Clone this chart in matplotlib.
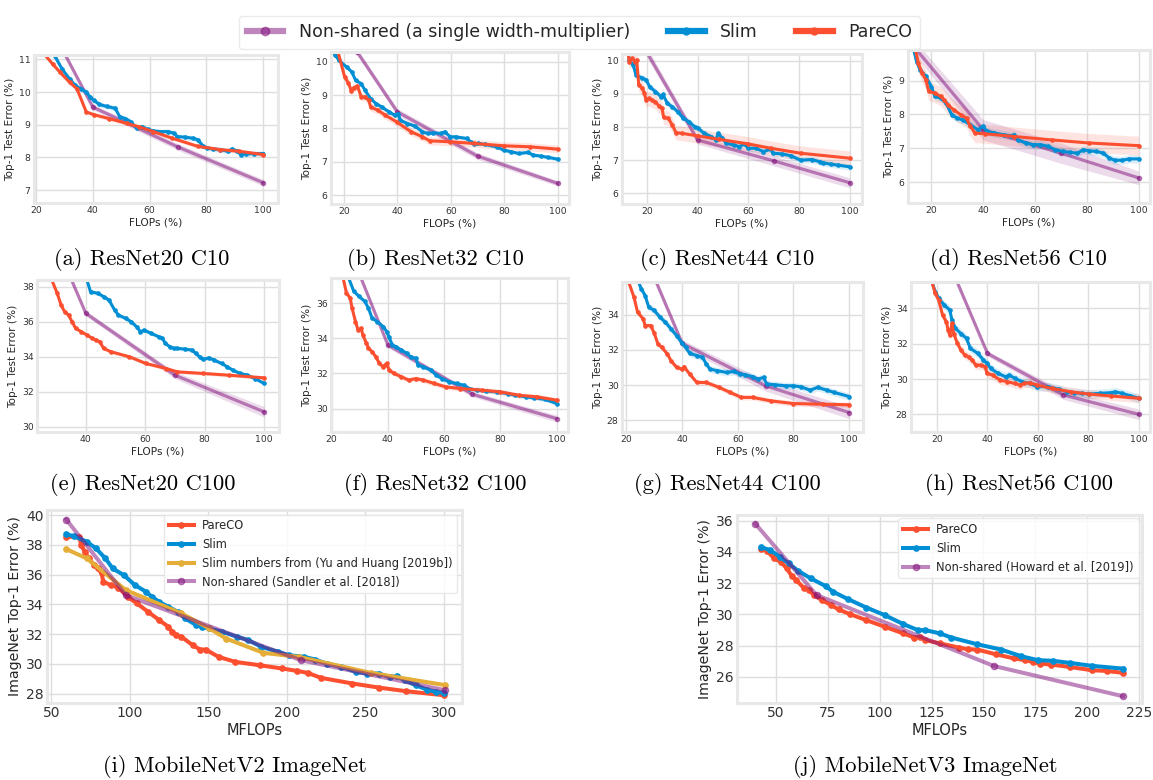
import matplotlib
matplotlib.use('Agg')
import matplotlib.pyplot as plt
from matplotlib.lines import Line2D
import numpy as np

# === Data ===
# (a) ResNet20 C10
a_ns_x = [25, 40, 70, 100]
a_ns_y = [12.0, 9.54, 8.32, 7.23]
a_ns_sd = [0.1, 0.08, 0.1, 0.1]
a_slim_x = [25.5, 26.6, 29.2, 31.8, 33.8, 35.7, 37.7, 39.0, 40.3, 42.3, 44.9, 47.9, 49.5, 51.5, 53.4, 55.4, 57.4,
            59.3, 61.3, 63.9, 66.6, 68.5, 69.8, 72.5, 75.1, 77.0, 78.9, 80.3, 82.3, 84.9, 87.5, 89.1, 90.8, 92.1,
            94.1, 96.7, 100]
a_slim_y = [11.3, 11.1, 10.7, 10.4, 10.2, 10.1, 10.0, 9.85, 9.75, 9.62, 9.56, 9.5, 9.24, 9.19, 9.09, 8.89, 8.94,
            8.86, 8.81, 8.79, 8.79, 8.74, 8.64, 8.62, 8.59, 8.54, 8.34, 8.29, 8.26, 8.24, 8.19, 8.26, 8.19, 8.09,
            8.11, 8.12, 8.12]
a_pareco_x = [22.5, 25.9, 28.5, 31.8, 34.4, 37.7, 40.3, 45.6, 52.1, 56.1, 61.3, 67.9, 77.0, 84.9, 91.5, 100]
a_pareco_y = [11.2, 10.85, 10.6, 10.3, 10.1, 9.39, 9.31, 9.19, 9.04, 8.94, 8.79, 8.59, 8.34, 8.24, 8.19, 8.09]

# (b) ResNet32 C10
b_ns_x = [25, 40, 70, 100]
b_ns_y = [10.3, 8.5, 7.17, 6.35]
b_ns_sd = [0.1, 0.1, 0.1, 0.08]
b_slim_x = [15.5, 16.8, 18.2, 21.0, 23.0, 24.4, 26.5, 27.9, 30.0, 32.0, 34.1, 36.9, 39.0, 40.4, 41.0, 43.8, 46.6,
            49.4, 51.4, 53.5, 56.3, 57.7, 59.8, 61.8, 66.0, 67.4, 68.8, 70.1, 72.9, 77.1, 79.8, 82.6, 85.4, 88.8,
            90.9, 93.7, 96.5, 99.9]
b_slim_y = [10.4, 10.2, 10.05, 9.85, 9.7, 9.45, 9.35, 9.15, 8.9, 8.75, 8.65, 8.5, 8.4, 8.45, 8.25, 8.15, 8.07,
            7.9, 7.85, 7.87, 7.85, 7.9, 7.75, 7.75, 7.7, 7.6, 7.52, 7.55, 7.52, 7.45, 7.35, 7.3, 7.25, 7.28,
            7.2, 7.17, 7.13, 7.08]
b_pareco_x = [17.5, 20.3, 21.7, 22.8, 23.7, 25.1, 26.5, 27.9, 29.3, 30.0, 32.7, 35.5, 39.7, 45.2, 49.4, 52.1,
              59.8, 68.8, 79.8, 89.5, 99.9]
b_pareco_y = [10.4, 9.55, 9.37, 9.13, 9.23, 9.27, 8.95, 8.95, 8.85, 8.65, 8.55, 8.4, 8.2, 7.9, 7.75, 7.63,
              7.6, 7.55, 7.48, 7.45, 7.38]

# (c) ResNet44 C10
c_ns_x = [20, 40, 70, 100]
c_ns_y = [10.25, 7.61, 6.98, 6.32]
c_ns_sd = [0.15, 0.12, 0.15, 0.15]
c_slim_x = [12.4, 13.1, 14.6, 15.7, 18.2, 19.7, 21.2, 23.4, 25.6, 26.3, 28.1, 30.0, 32.2, 34.4, 36.6, 38.8, 40.3,
            42.5, 45.4, 47.2, 48.1, 49.8, 51.3, 54.2, 56.4, 58.6, 59.8, 63.0, 65.9, 68.9, 69.6, 73.3, 76.9, 80.6,
            85.0, 88.3, 89.5, 92.4, 95.3, 100]
c_slim_y = [10.3, 10.02, 9.87, 9.57, 9.47, 9.42, 9.2, 9.07, 8.91, 8.98, 8.71, 8.61, 8.46, 8.26, 8.16, 8.01, 7.96,
            7.81, 7.71, 7.61, 7.81, 7.66, 7.51, 7.46, 7.41, 7.49, 7.36, 7.36, 7.26, 7.33, 7.21, 7.19, 7.13, 7.0,
            7.02, 6.95, 6.92, 6.88, 6.85, 6.8]
c_pareco_x = [12.4, 13.1, 14.3, 15.3, 16.0, 16.8, 18.2, 19.0, 19.7, 20.7, 21.9, 23.4, 24.8, 26.0, 26.6, 28.5,
              30.0, 31.5, 33.7, 40.3, 48.3, 60.0, 68.9, 80.6, 100]
c_pareco_y = [10.3, 9.97, 10.07, 9.97, 10.02, 9.27, 9.17, 9.02, 8.81, 8.86, 8.81, 8.76, 8.63, 8.56, 8.29, 8.26,
              8.06, 7.83, 7.81, 7.73, 7.63, 7.49, 7.36, 7.21, 7.06]

# (d) ResNet56 C10
d_ns_x = [10, 40, 70, 100]
d_ns_y = [10.3, 7.55, 6.86, 6.13]
d_ns_sd = [0.2, 0.3, 0.3, 0.2]
d_slim_x = [12.9, 14.3, 15.7, 17.9, 20.0, 21.4, 23.6, 25.7, 27.9, 30.0, 32.1, 35.0, 37.9, 40.0, 41.4, 44.3, 47.9,
            50.7, 52.1, 53.6, 56.4, 59.3, 62.1, 65.0, 67.9, 70.7, 73.6, 76.4, 78.6, 80.7, 83.6, 86.4, 88.6, 90.7,
            93.6, 96.4, 100]
d_slim_y = [10.0, 9.56, 9.31, 9.12, 8.82, 8.53, 8.48, 8.33, 7.99, 7.89, 7.84, 7.7, 7.55, 7.65, 7.5, 7.45, 7.4,
            7.37, 7.4, 7.25, 7.16, 7.11, 7.11, 7.06, 6.96, 6.91, 6.88, 6.86, 6.96, 6.93, 6.91, 6.86, 6.72, 6.65,
            6.65, 6.69, 6.69]
d_pareco_x = [13.6, 15.0, 16.4, 17.9, 19.0, 21.4, 23.6, 25.0, 26.4, 28.6, 31.4, 33.6, 35.0, 36.9, 40.7, 52.1,
              66.4, 80.7, 100]
d_pareco_y = [10.0, 9.51, 9.22, 9.02, 8.68, 8.63, 8.53, 8.43, 8.28, 8.14, 7.99, 7.89, 7.65, 7.45, 7.43, 7.35,
              7.25, 7.16, 7.08]

# (e) ResNet20 C100
e_ns_x = [30, 40, 70, 100]
e_ns_y = [40.45, 36.48, 32.95, 30.86]
e_ns_sd = [0.2, 0.15, 0.2, 0.3]
e_slim_x = [40.0, 41.6, 44.1, 46.0, 47.8, 49.7, 51.0, 53.4, 55.3, 57.1, 58.4, 59.6, 62.1, 64.6, 65.8, 66.8, 68.3,
            69.6, 70.8, 73.3, 75.8, 77.0, 78.3, 79.5, 81.4, 83.2, 85.7, 87.6, 89.4, 91.9, 94.4, 96.9, 100]
e_slim_y = [38.6, 37.71, 37.62, 37.43, 37.24, 36.67, 36.38, 36.19, 36.0, 35.71, 35.43, 35.52, 35.33, 35.14,
            35.05, 34.76, 34.57, 34.48, 34.48, 34.44, 34.38, 34.19, 34.0, 33.85, 33.94, 33.81, 33.62, 33.43,
            33.24, 33.05, 32.95, 32.76, 32.48]
e_pareco_x = [28.3, 30.4, 31.7, 32.9, 34.2, 35.4, 36.6, 38.5, 40.4, 42.2, 43.5, 44.7, 46.0, 48.4, 54.7, 60.2,
              67.1, 70.8, 79.5, 88.2, 100]
e_pareco_y = [38.5, 37.62, 36.95, 36.57, 36.38, 36.0, 35.62, 35.43, 35.24, 35.05, 34.95, 34.86, 34.48, 34.29,
              34.0, 33.62, 33.33, 33.14, 33.05, 32.95, 32.8]

# (f) ResNet32 C100
f_ns_x = [25, 40, 70, 100]
f_ns_y = [39.6, 33.62, 30.82, 29.43]
f_ns_sd = [0.2, 0.15, 0.15, 0.2]
f_slim_x = [25.9, 27.9, 29.8, 31.8, 33.1, 34.4, 36.3, 38.3, 39.6, 40.3, 41.6, 42.9, 44.8, 46.8, 48.1, 50.0, 50.7,
            52.6, 55.3, 57.2, 59.2, 61.8, 64.4, 67.0, 69.0, 71.6, 74.8, 78.7, 82.6, 85.2, 89.2, 91.8, 95.7, 100]
f_slim_y = [37.5, 36.67, 36.38, 36.1, 35.71, 35.14, 34.95, 34.67, 34.38, 34.1, 33.62, 33.52, 33.33, 33.14,
            32.95, 32.86, 32.48, 32.38, 32.19, 31.9, 31.71, 31.52, 31.43, 31.33, 31.14, 31.05, 31.0, 30.95,
            30.86, 30.76, 30.67, 30.61, 30.53, 30.29]
f_pareco_x = [24.0, 25.3, 26.6, 27.3, 28.5, 29.4, 30.5, 31.1, 32.4, 33.1, 34.4, 35.7, 37.0, 38.3, 39.0, 39.6,
              40.5, 42.2, 44.8, 47.4, 50.0, 52.6, 56.5, 60.5, 65.7, 73.5, 80.0, 86.5, 93.0, 100]
f_pareco_y = [37.5, 36.57, 36.29, 35.71, 34.95, 34.48, 34.57, 34.19, 33.71, 33.43, 33.24, 32.95, 32.57, 32.38,
              32.48, 32.57, 32.19, 32.0, 31.81, 31.62, 31.71, 31.62, 31.43, 31.24, 31.14, 31.05, 30.95, 30.76,
              30.67, 30.48]

# (g) ResNet44 C100
g_ns_x = [25, 40, 70, 100]
g_ns_y = [38.0, 32.38, 29.96, 28.44]
g_ns_sd = [0.2, 0.2, 0.3, 0.35]
g_slim_x = [24.0, 25.3, 26.7, 28.0, 30.0, 32.0, 34.0, 36.0, 38.0, 40.0, 41.3, 42.7, 45.3, 47.3, 48.7, 50.0, 52.7,
            56.0, 58.7, 60.7, 62.7, 65.3, 67.3, 69.3, 70.4, 73.3, 77.3, 80.0, 82.7, 86.0, 88.7, 92.0, 94.7, 100]
g_slim_y = [36.0, 35.49, 35.1, 34.44, 34.25, 33.87, 33.58, 33.2, 32.82, 32.38, 32.15, 31.81, 31.68, 31.58,
            31.2, 30.91, 30.82, 30.72, 30.78, 30.63, 30.59, 30.48, 30.34, 30.44, 30.06, 30.02, 29.96, 29.96,
            29.9, 29.71, 29.87, 29.71, 29.58, 29.35]
g_pareco_x = [20.5, 22.7, 24.0, 26.0, 26.7, 28.7, 30.0, 31.3, 32.7, 34.7, 36.0, 38.0, 40.0, 40.7, 42.7, 45.3,
              48.7, 53.3, 57.3, 61.3, 65.3, 72.0, 80.0, 90.7, 100]
g_pareco_y = [36.0, 35.01, 34.15, 33.77, 33.39, 33.39, 32.95, 32.34, 32.15, 31.77, 31.39, 31.01, 30.91, 31.05,
              30.63, 30.15, 30.15, 29.87, 29.58, 29.3, 29.3, 29.1, 28.95, 28.91, 28.88]

# (h) ResNet56 C100
h_ns_x = [25, 40, 70, 100]
h_ns_y = [36.5, 31.45, 29.1, 28.0]
h_ns_sd = [0.2, 0.15, 0.25, 0.3]
h_slim_x = [17.8, 19.3, 20.7, 22.9, 25.1, 25.9, 27.3, 29.5, 31.7, 33.2, 36.2, 38.4, 39.8, 41.3, 44.2, 47.2, 48.6,
            50.8, 53.8, 56.7, 59.6, 64.1, 68.5, 71.4, 74.3, 77.3, 80.2, 84.6, 89.0, 90.5, 93.4, 96.4, 100]
h_slim_y = [35.6, 34.94, 34.57, 34.19, 33.91, 33.34, 32.87, 32.58, 32.3, 31.74, 31.45, 31.08, 30.89, 30.6,
            30.32, 30.13, 30.23, 30.04, 29.85, 29.75, 29.57, 29.57, 29.42, 29.28, 29.23, 29.19, 29.15, 29.19,
            29.23, 29.28, 29.19, 29.06, 28.91]
h_pareco_x = [17.8, 19.3, 20.7, 22.2, 23.7, 24.4, 25.1, 25.9, 26.6, 28.1, 29.5, 31.0, 32.5, 33.9, 35.4, 37.6,
              39.1, 39.8, 42.0, 45.0, 47.9, 50.8, 53.0, 54.5, 56.7, 59.6, 65.5, 72.9, 80.2, 89.0, 100]
h_pareco_y = [35.6, 34.85, 34.47, 33.62, 33.25, 32.77, 32.49, 33.15, 32.58, 32.02, 31.64, 31.36, 31.26, 31.08,
              30.79, 30.79, 30.7, 30.32, 30.23, 29.94, 29.85, 29.75, 29.66, 29.75, 29.79, 29.66, 29.47, 29.28,
              29.15, 29.04, 28.91]

# band half-widths for Slim / PareCO per panel (a..h)
slim_sd = [0.08, 0.06, 0.1, 0.12, 0.12, 0.12, 0.2, 0.25]
pareco_sd = [0.06, 0.12, 0.22, 0.28, 0.1, 0.15, 0.15, 0.25]

# (i) MobileNetV2 ImageNet
i_pareco_x = [59.5, 67.8, 69.0, 71.3, 73.7, 77.3, 79.6, 82.0, 83.1, 87.9, 92.7, 98.6, 104.5, 111.6, 118.7,
              124.6, 127.0, 129.4, 132.9, 140.0, 144.8, 148.3, 156.6, 167.3, 182.7, 196.9, 206.4, 213.5, 221.8,
              241.9, 258.5, 276.3, 300.0]
i_pareco_y = [38.54, 38.54, 37.98, 37.53, 37.09, 36.64, 36.41, 36.08, 35.52, 35.29, 35.13, 34.51, 34.06, 33.5,
              32.94, 32.49, 32.15, 31.93, 31.82, 31.26, 30.96, 30.96, 30.47, 30.13, 29.91, 29.69, 29.53, 29.39,
              29.06, 28.68, 28.41, 28.16, 27.89]
i_slim_x = [59.5, 64.2, 72.5, 78.4, 84.4, 89.1, 96.2, 103.3, 110.4, 114.0, 118.7, 124.6, 130.6, 135.3, 142.4,
            146.0, 150.7, 159.0, 168.5, 175.6, 183.9, 194.5, 201.6, 211.1, 218.2, 225.4, 234.8, 244.3, 251.4,
            258.5, 265.6, 270.4, 275.1, 282.2, 289.3, 295.3, 300.1]
i_slim_y = [38.7, 38.59, 38.21, 37.76, 37.09, 36.41, 35.96, 35.29, 34.84, 34.51, 34.17, 33.83, 33.5, 33.05,
            32.6, 32.49, 32.38, 32.15, 31.82, 31.59, 31.14, 30.81, 30.58, 30.47, 30.29, 30.02, 29.8, 29.46,
            29.35, 29.35, 29.13, 29.17, 28.9, 28.57, 28.27, 28.12, 28.05]
i_yu_x = [59.5, 72.5, 97.4, 132.9, 150.7, 161.4, 185.1, 207.6, 253.8, 301.0]
i_yu_y = [37.71, 37.09, 34.96, 33.39, 32.38, 31.7, 30.74, 30.47, 29.39, 28.57]
i_ns_x = [59.5, 97.4, 208.8, 301.0]
i_ns_y = [39.7, 34.62, 30.25, 28.23]

# (j) MobileNetV3 ImageNet
j_pareco_x = [42.9, 45.6, 49.1, 52.3, 55.3, 57.7, 59.8, 63.7, 66.0, 68.3, 72.2, 76.7, 80.2, 85.6, 93.6, 102.5,
              111.4, 116.7, 119.4, 122.1, 129.2, 138.1, 142.5, 147.0, 155.9, 164.8, 170.1, 173.7, 177.2, 182.6,
              191.5, 202.1, 209.3, 217.3]
j_pareco_y = [34.16, 34.08, 33.59, 33.37, 32.94, 32.45, 32.2, 31.66, 31.56, 31.24, 30.91, 30.59, 30.32, 30.02,
              29.63, 29.21, 28.78, 28.52, 28.56, 28.35, 28.14, 27.88, 27.77, 27.75, 27.45, 27.18, 27.07, 26.96,
              26.85, 26.79, 26.64, 26.43, 26.38, 26.26]
j_slim_x = [42.9, 47.3, 51.8, 56.2, 60.7, 66.9, 74.0, 77.6, 84.7, 93.6, 102.5, 111.4, 118.5, 122.1, 129.2, 134.5,
            147.0, 158.5, 168.3, 176.3, 183.5, 191.5, 202.1, 217.3]
j_slim_y = [34.29, 34.12, 33.69, 33.26, 32.79, 32.3, 31.81, 31.45, 30.98, 30.44, 29.95, 29.38, 28.99, 28.99,
            28.78, 28.52, 28.09, 27.75, 27.32, 27.07, 27.03, 26.9, 26.71, 26.53]
j_ns_x = [40.2, 69.6, 155.0, 217.3]
j_ns_y = [35.79, 31.24, 26.7, 24.76]

# === Styling ===
W, H = 1153, 780
BLUE, RED, YELLOW, PURPLE = '#008fd5', '#fc4f30', '#e5ae38', '#810f7c'
NS_ALPHA = 0.5

fig = plt.figure(figsize=(W / 100, H / 100), dpi=100)


def box(l, t, r, b):
    return [l / W, 1 - b / H, (r - l) / W, (b - t) / H]


def style(ax, fs):
    for s in ax.spines.values():
        s.set_color('#e8e8e8')
        s.set_linewidth(2.2)
    ax.grid(True, color='#dedede', linewidth=1)
    ax.set_axisbelow(True)
    ax.tick_params(length=0, labelsize=fs, colors='#333333', pad=2.5)


def band(ax, x, y, sd, color):
    x, y = np.array(x), np.array(y)
    ax.fill_between(x, y - sd, y + sd, color=color, alpha=0.15, lw=0)


def small_panel(rect, ns, slim, pareco, sds, xlim, ylim, xticks, yticks):
    ax = fig.add_axes(box(*rect))
    style(ax, 6.7)
    ns_x, ns_y, ns_sd = ns
    band(ax, ns_x, ns_y, np.array(ns_sd), PURPLE)
    band(ax, slim[0], slim[1], sds[0], BLUE)
    band(ax, pareco[0], pareco[1], sds[1], RED)
    ax.plot(ns_x, ns_y, color=PURPLE, alpha=NS_ALPHA, lw=2.3, marker='o', ms=3)
    ax.plot(slim[0], slim[1], color=BLUE, lw=2.2, marker='o', ms=2.3)
    ax.plot(pareco[0], pareco[1], color=RED, lw=2.2, marker='o', ms=2.3)
    ax.set_xlim(*xlim)
    ax.set_ylim(*ylim)
    ax.set_xticks(xticks)
    ax.set_yticks(yticks)
    ax.set_xlabel('FLOPs (%)', fontsize=7.6, color='#262626', labelpad=1.5)
    ax.set_ylabel('Top-1 Test Error (%)', fontsize=7.6, color='#262626', labelpad=3)
    return ax


xt = [20, 40, 60, 80, 100]
small_panel((34, 55, 278, 203), (a_ns_x, a_ns_y, a_ns_sd), (a_slim_x, a_slim_y), (a_pareco_x, a_pareco_y),
            (slim_sd[0], pareco_sd[0]), (19.3, 105.2), (6.61, 11.13), xt, [7, 8, 9, 10, 11])
small_panel((331, 52, 569, 204), (b_ns_x, b_ns_y, b_ns_sd), (b_slim_x, b_slim_y), (b_pareco_x, b_pareco_y),
            (slim_sd[1], pareco_sd[1]), (15.2, 104.2), (5.73, 10.3), xt, [6, 7, 8, 9, 10])
small_panel((622, 54, 862, 204), (c_ns_x, c_ns_y, c_ns_sd), (c_slim_x, c_slim_y), (c_pareco_x, c_pareco_y),
            (slim_sd[2], pareco_sd[2]), (10.2, 104.8), (5.68, 10.2), xt, [6, 7, 8, 9, 10])
small_panel((908, 50, 1150, 203), (d_ns_x, d_ns_y, d_ns_sd), (d_slim_x, d_slim_y), (d_pareco_x, d_pareco_y),
            (slim_sd[3], pareco_sd[3]), (11.0, 104.4), (5.39, 9.9), xt, [6, 7, 8, 9])

small_panel((37, 280, 279, 432), (e_ns_x, e_ns_y, e_ns_sd), (e_slim_x, e_slim_y), (e_pareco_x, e_pareco_y),
            (slim_sd[4], pareco_sd[4]), (23.6, 105.0), (29.71, 38.38), [40, 60, 80, 100], [30, 32, 34, 36, 38])
small_panel((331, 278, 568, 432), (f_ns_x, f_ns_y, f_ns_sd), (f_slim_x, f_slim_y), (f_pareco_x, f_pareco_y),
            (slim_sd[5], pareco_sd[5]), (19.8, 104.0), (28.67, 37.43), xt, [30, 32, 34, 36])
small_panel((622, 282, 863, 432), (g_ns_x, g_ns_y, g_ns_sd), (g_slim_x, g_slim_y), (g_pareco_x, g_pareco_y),
            (slim_sd[6], pareco_sd[6]), (18.4, 105.0), (27.33, 35.87), xt, [28, 30, 32, 34])
small_panel((911, 282, 1150, 432), (h_ns_x, h_ns_y, h_ns_sd), (h_slim_x, h_slim_y), (h_pareco_x, h_pareco_y),
            (slim_sd[7], pareco_sd[7]), (9.7, 104.4), (27.0, 35.5), xt, [28, 30, 32, 34])

# (i) MobileNetV2
ax_i = fig.add_axes(box(47, 510, 462, 703))
style(ax_i, 10)
ax_i.plot(i_pareco_x, i_pareco_y, color=RED, lw=2.9, marker='o', ms=3.8, label='PareCO')
ax_i.plot(i_slim_x, i_slim_y, color=BLUE, lw=2.9, marker='o', ms=3.8, label='Slim')
ax_i.plot(i_yu_x, i_yu_y, color=YELLOW, lw=2.9, marker='o', ms=3.8, label='Slim numbers from (Yu and Huang [2019b])')
ax_i.plot(i_ns_x, i_ns_y, color=PURPLE, alpha=NS_ALPHA, lw=2.9, marker='o', ms=4.5,
          label='Non-shared (Sandler et al. [2018])')
ax_i.set_xlim(47.2, 311.7)
ax_i.set_ylim(27.37, 40.34)
ax_i.set_xticks([50, 100, 150, 200, 250, 300])
ax_i.set_yticks([28, 30, 32, 34, 36, 38, 40])
ax_i.set_xlabel('MFLOPs', fontsize=10.5, color='#262626', labelpad=2)
ax_i.set_ylabel('ImageNet Top-1 Error (%)', fontsize=10.2, color='#262626', labelpad=3)
leg = ax_i.legend(loc='upper right', fontsize=8.3, handlelength=2.2, handletextpad=0.7, borderaxespad=0.4,
                  frameon=True, fancybox=True, edgecolor='#e6e6e6', framealpha=0.85)
for t in leg.get_texts():
    t.set_color('#262626')

# (j) MobileNetV3
ax_j = fig.add_axes(box(737, 515, 1142, 703))
style(ax_j, 10)
ax_j.plot(j_pareco_x, j_pareco_y, color=RED, lw=2.9, marker='o', ms=3.8, label='PareCO')
ax_j.plot(j_slim_x, j_slim_y, color=BLUE, lw=2.9, marker='o', ms=3.8, label='Slim')
ax_j.plot(j_ns_x, j_ns_y, color=PURPLE, alpha=NS_ALPHA, lw=2.9, marker='o', ms=4.5,
          label='Non-shared (Howard et al. [2019])')
ax_j.set_xlim(31.3, 226.4)
ax_j.set_ylim(24.33, 36.36)
ax_j.set_xticks([50, 75, 100, 125, 150, 175, 200, 225])
ax_j.set_yticks([26, 28, 30, 32, 34, 36])
ax_j.set_xlabel('MFLOPs', fontsize=10.5, color='#262626', labelpad=2)
ax_j.set_ylabel('ImageNet Top-1 Error (%)', fontsize=10.2, color='#262626', labelpad=3)
leg = ax_j.legend(loc='upper right', fontsize=8.3, handlelength=2.2, handletextpad=0.7, borderaxespad=0.3,
                  frameon=True, fancybox=True, edgecolor='#e6e6e6', framealpha=0.85)
for t in leg.get_texts():
    t.set_color('#262626')

# === Shared legend on top ===
handles = [Line2D([], [], color=PURPLE, alpha=NS_ALPHA, lw=4.5, marker='o', ms=6),
           Line2D([], [], color=BLUE, lw=4.5, marker='o', ms=5),
           Line2D([], [], color=RED, lw=4.5, marker='o', ms=5)]
labels = ['Non-shared (a single width-multiplier)', 'Slim', 'PareCO']
top_leg = fig.legend(handles, labels, loc='upper center', bbox_to_anchor=(579.5 / W, 1 - 7 / H), ncol=3,
                     fontsize=12.5, handlelength=2.1, handletextpad=0.9, columnspacing=2.2, frameon=True,
                     fancybox=True, edgecolor='#e6e6e6', borderpad=0.45)
for t in top_leg.get_texts():
    t.set_color('#262626')

# === Sub-captions ===
captions = ['(a) ResNet20 C10', '(b) ResNet32 C10', '(c) ResNet44 C10', '(d) ResNet56 C10',
            '(e) ResNet20 C100', '(f) ResNet32 C100', '(g) ResNet44 C100', '(h) ResNet56 C100',
            '(i) MobileNetV2 ImageNet', '(j) MobileNetV3 ImageNet']
cap_x = [142, 435, 727, 1018, 143, 435, 727, 1019, 235, 925]
cap_y = [260, 260, 260, 260, 485, 485, 485, 485, 767, 767]
for txt, cx, cy in zip(captions, cap_x, cap_y):
    fig.text(cx / W, 1 - cy / H, txt, ha='center', va='center', fontfamily='cmr10', fontsize=16.2)

fig.savefig('out.png', dpi=100)
